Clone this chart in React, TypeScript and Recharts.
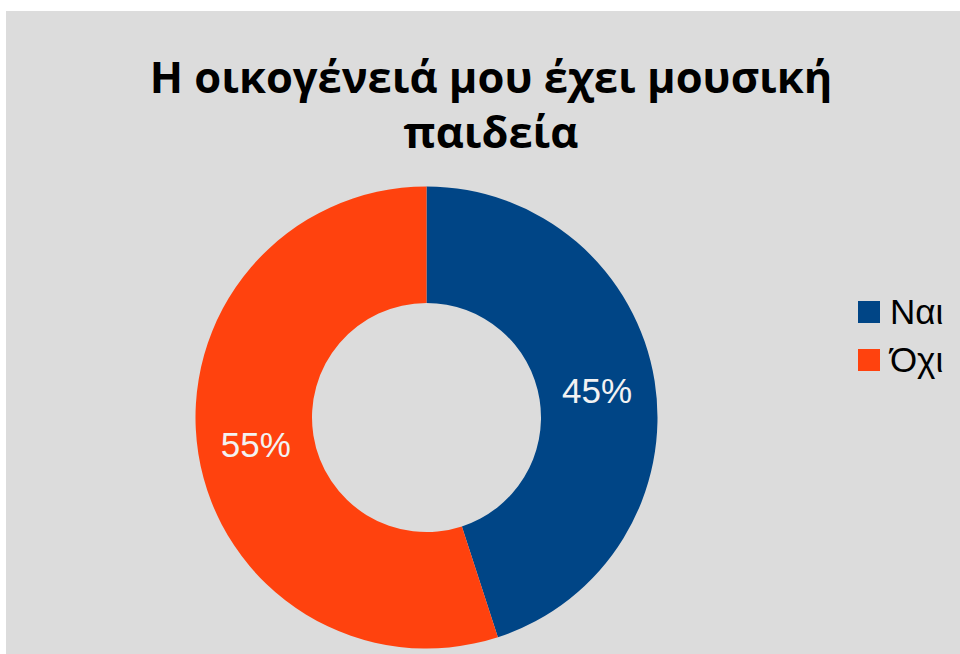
import { Cell, Legend, Pie, PieChart } from 'recharts';

const categories = ['Ναι', 'Όχι'];
const values = [45, 55];
const colors = ['#004586', '#ff420e'];
const titleLines = ['Η οικογένειά μου έχει μουσική', 'παιδεία'];

const data = categories.map((name, i) => ({ name, value: values[i] }));

const RADIAN = Math.PI / 180;

const renderLabel = (props: any) => {
  const { cx, cy, midAngle, innerRadius, outerRadius, percent } = props;
  const r = (innerRadius + outerRadius) / 2;
  const x = cx + r * Math.cos(-midAngle * RADIAN);
  const y = cy + r * Math.sin(-midAngle * RADIAN);
  return (
    <text
      x={x}
      y={y}
      fill="#f2f2f2"
      textAnchor="middle"
      dominantBaseline="central"
      style={{ fontFamily: 'Liberation Sans', fontSize: 35 }}
    >
      {Math.round(percent * 100)}%
    </text>
  );
};

const LegendContent = () => (
  <div style={{ fontFamily: 'Liberation Sans', fontSize: 35, color: '#000' }}>
    {data.map((d, i) => (
      <div
        key={d.name}
        style={{ display: 'flex', alignItems: 'center', height: 48 }}
      >
        <span
          style={{
            display: 'inline-block',
            width: 22,
            height: 22,
            background: colors[i],
            marginRight: 10,
          }}
        />
        <span>{d.name}</span>
      </div>
    ))}
  </div>
);

const App = () => {
  return (
    <div
      style={{
        position: 'absolute',
        left: 6,
        top: 11,
        width: 954,
        height: 643,
        background: '#dcdcdc',
        overflow: 'hidden',
      }}
    >
      <div
        style={{
          position: 'absolute',
          left: 0,
          top: 37.5,
          width: 970,
          textAlign: 'center',
          fontFamily: 'Open Sans',
          fontWeight: 700,
          fontSize: 43.5,
          lineHeight: '55px',
          color: '#000',
        }}
      >
        {titleLines.map(t => (
          <div key={t}>{t}</div>
        ))}
      </div>
      <PieChart
        width={954}
        height={643}
        margin={{ top: 0, right: 0, bottom: 0, left: 0 }}
      >
        <Pie
          data={data}
          dataKey="value"
          nameKey="name"
          cx={420.5}
          cy={406.5}
          innerRadius={114.5}
          outerRadius={231}
          startAngle={90}
          endAngle={-270}
          stroke="none"
          label={renderLabel}
          labelLine={false}
          isAnimationActive={false}
        >
          {data.map((d, i) => (
            <Cell key={d.name} fill={colors[i]} />
          ))}
        </Pie>
        <Legend
          content={<LegendContent />}
          wrapperStyle={{ left: 852, top: 277, width: 100 }}
        />
      </PieChart>
    </div>
  );
};

export default App;
